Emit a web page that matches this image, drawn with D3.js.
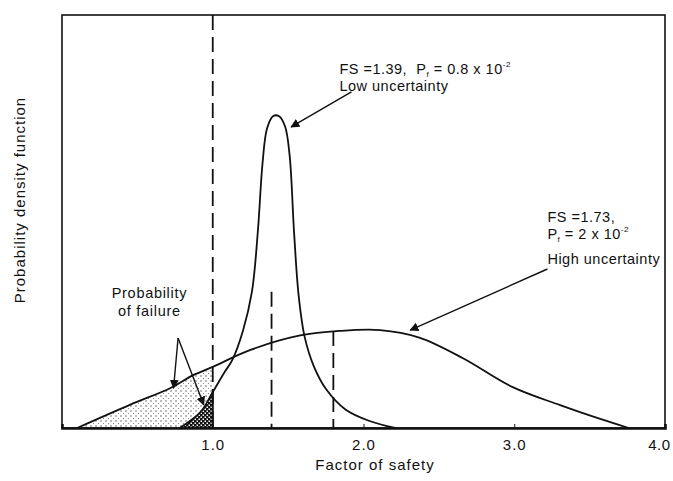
<!DOCTYPE html>
<html>
<head>
<meta charset="utf-8">
<script src="https://cdn.jsdelivr.net/npm/d3@7"></script>
<style>
  body { margin: 0; background: #fff; }
  text { font-family: "Liberation Sans", Arial, sans-serif; fill: #111; }
</style>
</head>
<body>
<svg id="chart" width="673" height="481"></svg>
<script>
// values (factor of safety vs. density ordinate)
const wideFS   = [0.10, 0.45, 0.72, 0.87, 1.00, 1.25, 1.58, 1.84, 2.11, 2.37, 2.66, 2.99, 3.30, 3.57, 3.76];
const widePdf  = [0, 0.056, 0.097, 0.128, 0.148, 0.189, 0.224, 0.235, 0.237, 0.219, 0.169, 0.099, 0.056, 0.022, 0];
const narrowFS  = [0.78, 0.92, 1.00, 1.08, 1.13, 1.20, 1.26, 1.30, 1.33, 1.36, 1.40, 1.44, 1.48, 1.51, 1.54, 1.57, 1.61, 1.67, 1.75, 1.88, 2.04, 2.21];
const narrowPdf = [0, 0.039, 0.087, 0.136, 0.165, 0.235, 0.33, 0.48, 0.64, 0.725, 0.755, 0.755, 0.73, 0.66, 0.47, 0.32, 0.22, 0.15, 0.095, 0.045, 0.017, 0];
const xTicks = [1.0, 2.0, 3.0, 4.0];
const limitFS = 1.0;
const meanFS  = [1.39, 1.80];
const meanTop = [0.33, 0.235];

const W = 673, H = 481;
const margin = {top: 15, right: 8, bottom: 53, left: 62};

var svg = d3.select("#chart");
svg.append("rect").attr("width", W).attr("height", H).attr("fill", "#fff");

var x = d3.scaleLinear().domain([0, 4]).range([margin.left, W - margin.right]);
var y = d3.scaleLinear().domain([0, 1]).range([H - margin.bottom, margin.top]);

var wide = wideFS.map((d, i) => ({fs: d, p: widePdf[i]}));
var narrow = narrowFS.map((d, i) => ({fs: d, p: narrowPdf[i]}));

// patterns
var defs = svg.append("defs");
var dots = defs.append("pattern").attr("id", "dots")
    .attr("patternUnits", "userSpaceOnUse").attr("width", 5).attr("height", 5);
dots.append("circle").attr("cx", 1).attr("cy", 1).attr("r", 0.7).attr("fill", "#444");
dots.append("circle").attr("cx", 3.5).attr("cy", 3.5).attr("r", 0.6).attr("fill", "#777");

var hatch = defs.append("pattern").attr("id", "hatch")
    .attr("patternUnits", "userSpaceOnUse").attr("width", 4).attr("height", 4);
hatch.append("rect").attr("width", 4).attr("height", 4).attr("fill", "#111");
hatch.append("rect").attr("x", 0.5).attr("y", 0.5).attr("width", 1.5).attr("height", 1.5).attr("fill", "#fff");
hatch.append("rect").attr("x", 2.5).attr("y", 2.5).attr("width", 1.5).attr("height", 1.5).attr("fill", "#fff");

defs.append("clipPath").attr("id", "failzone")
  .append("rect")
    .attr("x", x(0)).attr("y", y(1))
    .attr("width", x(limitFS) - x(0)).attr("height", y(0) - y(1));

defs.append("marker").attr("id", "head")
    .attr("viewBox", "0 0 10 10").attr("refX", 9).attr("refY", 5)
    .attr("markerWidth", 9).attr("markerHeight", 9).attr("markerUnits", "userSpaceOnUse")
    .attr("orient", "auto")
  .append("path").attr("d", "M0,0L10,5L0,10z").attr("fill", "#111");

var curve = d3.curveCatmullRom.alpha(0.5);
var line = d3.line().x(d => x(d.fs)).y(d => y(d.p)).curve(curve);
var area = d3.area().x(d => x(d.fs)).y0(y(0)).y1(d => y(d.p)).curve(curve);

// probability of failure shading
svg.append("path").datum(wide)
    .attr("clip-path", "url(#failzone)")
    .attr("fill", "url(#dots)")
    .attr("d", area);
svg.append("path").datum(narrow)
    .attr("clip-path", "url(#failzone)")
    .attr("fill", "url(#hatch)")
    .attr("d", area);
svg.append("line")
    .attr("x1", x(limitFS)).attr("x2", x(limitFS))
    .attr("y1", y(0)).attr("y2", y(narrowPdf[narrowFS.indexOf(limitFS)]))
    .attr("stroke", "#111").attr("stroke-width", 2);

// curves
svg.selectAll(".pdf")
  .data([wide, narrow])
  .enter().append("path")
    .attr("class", "pdf")
    .attr("fill", "none")
    .attr("stroke", "#111")
    .attr("stroke-width", 1.8)
    .attr("d", line);

// dashed lines
svg.append("line")
    .attr("x1", x(limitFS)).attr("x2", x(limitFS))
    .attr("y1", y(1)).attr("y2", y(0))
    .attr("stroke", "#111").attr("stroke-width", 1.8)
    .attr("stroke-dasharray", "15,7");
svg.selectAll(".mean")
  .data(meanFS)
  .enter().append("line")
    .attr("class", "mean")
    .attr("x1", d => x(d)).attr("x2", d => x(d))
    .attr("y1", (d, i) => y(meanTop[i])).attr("y2", y(0))
    .attr("stroke", "#111").attr("stroke-width", 1.8)
    .attr("stroke-dasharray", "15,7");

// frame
svg.append("rect")
    .attr("x", x(0)).attr("y", y(1))
    .attr("width", x(4) - x(0)).attr("height", y(0) - y(1))
    .attr("fill", "none").attr("stroke", "#111").attr("stroke-width", 1.6);

// x axis
var xAxis = svg.append("g")
    .attr("transform", "translate(0," + y(0) + ")")
    .call(d3.axisBottom(x).tickValues(xTicks).tickFormat(d3.format(".1f")).tickSize(-4).tickPadding(11));
xAxis.select(".domain").attr("stroke", "#111").attr("stroke-width", 2.6);
xAxis.selectAll(".tick line").attr("stroke", "#111");
xAxis.selectAll(".tick text")
    .attr("font-size", "15px").attr("letter-spacing", "1px")
    .style("font-family", "'Liberation Sans', Arial, sans-serif").attr("fill", "#111")
    .filter(d => d === 4)
    .attr("text-anchor", "end").attr("letter-spacing", "0.5px").attr("dx", 5);

svg.append("text")
    .attr("x", 375).attr("y", 470)
    .attr("text-anchor", "middle")
    .attr("font-size", "15px").attr("letter-spacing", "1px")
    .text("Factor of safety");

svg.append("text")
    .attr("transform", "translate(25,200) rotate(-90)")
    .attr("text-anchor", "middle")
    .attr("font-size", "15px").attr("letter-spacing", "1px")
    .text("Probability density function");

// annotations
const fsz = "14.5px", ls = "0.5px";
function pfLabel(sel, px, py, pre, val) {
  var t = sel.append("text").attr("x", px).attr("y", py)
      .attr("font-size", fsz).attr("letter-spacing", ls);
  t.append("tspan").text(pre + "P");
  t.append("tspan").attr("font-size", "8px").attr("dy", 3).text("f");
  t.append("tspan").attr("dy", -3).text(" = " + val + " x 10");
  t.append("tspan").attr("font-size", "8px").attr("dy", -7).text("-2");
  return t;
}
pfLabel(svg, x(1.84), y(0.857), "FS =1.39,\u00a0 ", "0.8");
svg.append("text").attr("x", x(1.84)).attr("y", y(0.815))
    .attr("font-size", fsz).attr("letter-spacing", ls)
    .text("Low uncertainty");

svg.append("text").attr("x", x(3.22)).attr("y", y(0.499))
    .attr("font-size", fsz).attr("letter-spacing", ls)
    .text("FS =1.73,");
pfLabel(svg, x(3.22), y(0.458), "", "2");
svg.append("text").attr("x", x(3.22)).attr("y", y(0.397))
    .attr("font-size", fsz).attr("letter-spacing", ls)
    .text("High uncertainty");

svg.append("text").attr("x", x(0.58)).attr("y", y(0.315))
    .attr("text-anchor", "middle").attr("font-size", fsz).attr("letter-spacing", "0.7px")
    .text("Probability");
svg.append("text").attr("x", x(0.58)).attr("y", y(0.271))
    .attr("text-anchor", "middle").attr("font-size", fsz).attr("letter-spacing", "0.7px")
    .text("of failure");

var arrows = [
  {from: [1.92, 0.814], to: [1.52, 0.729]},
  {from: [3.22, 0.385], to: [2.31, 0.237]},
  {from: [0.77, 0.218], to: [0.74, 0.097]},
  {from: [0.77, 0.218], to: [0.94, 0.056]}
];
svg.selectAll(".arrow")
  .data(arrows)
  .enter().append("line")
    .attr("class", "arrow")
    .attr("x1", d => x(d.from[0])).attr("y1", d => y(d.from[1]))
    .attr("x2", d => x(d.to[0])).attr("y2", d => y(d.to[1]))
    .attr("stroke", "#111").attr("stroke-width", 1.4)
    .attr("marker-end", "url(#head)");
</script>
</body>
</html>
